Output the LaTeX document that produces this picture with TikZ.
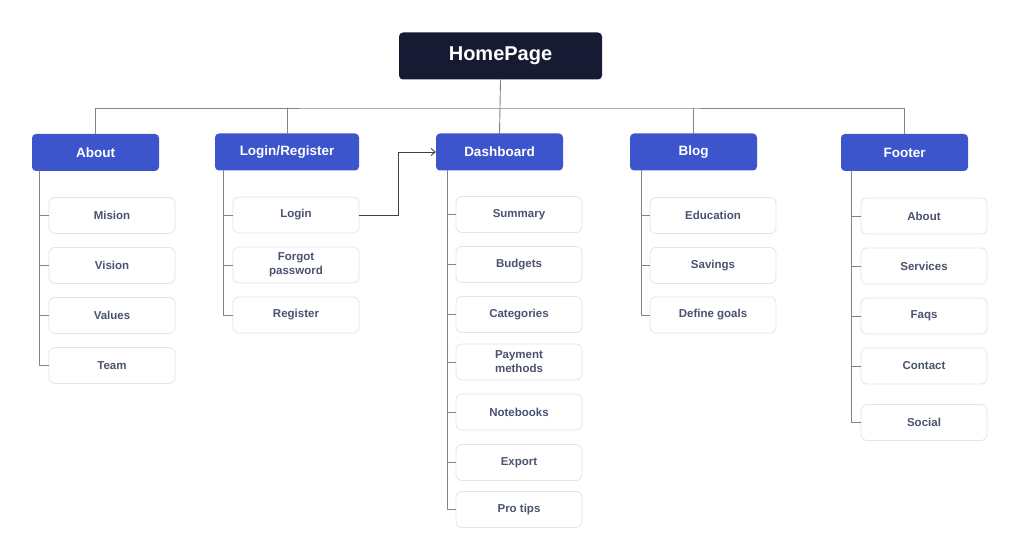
\documentclass[tikz,border=0pt]{standalone}
\usepackage{fontspec}
\setmainfont{Liberation Sans}
\usetikzlibrary{arrows.meta}
\usetikzlibrary{calc}
\usetikzlibrary{positioning}
\definecolor{homenavy}{HTML}{161B33}
\definecolor{secblue}{HTML}{3D55CC}
\definecolor{boxgray}{HTML}{E2E4E8}
\definecolor{labelgray}{HTML}{4B5270}
\definecolor{linegray}{HTML}{80838F}

\begin{document}
\begin{tikzpicture}[line cap=round,line join=round,x=1pt,y=-1pt,
    homebox/.style={fill=homenavy,rounded corners=4pt,minimum width=203pt,minimum height=47pt,inner sep=0pt,text=white,font=\fontsize{20}{23}\selectfont\bfseries},
    sectionbox/.style={fill=secblue,rounded corners=4pt,minimum width=127pt,minimum height=37pt,inner sep=0pt,text=white,font=\fontsize{13.5}{16}\selectfont\bfseries},
    pagebox/.style={draw=boxgray,line width=0.8pt,fill=white,rounded corners=6pt,minimum width=126pt,minimum height=36pt,inner sep=0pt,align=center,text=labelgray,font=\fontsize{11.5}{14}\selectfont\bfseries},
    treeline/.style={draw=linegray,line width=0.9pt}]
      \useasboundingbox (0,0) rectangle (1024,556);
      % root and sections
      \node[homebox] (homepage) at (500.5,56) {HomePage};
      \node[sectionbox] (about) at (95.5,152.5) {About};
      \node[sectionbox,minimum width=144pt] (loginreg) at (287,152) {Login/Register};
      \node[sectionbox] (dashboard) at (499.5,152) {Dashboard};
      \node[sectionbox] (blog) at (693.5,152) {Blog};
      \node[sectionbox] (footer) at (904.5,152.5) {Footer};
      \coordinate (bus) at (500,108);
      \draw[treeline] (homepage.south) -- (dashboard.north);
      \draw[treeline] (about.north) |- (bus) -| (footer.north);
      \draw[treeline] (loginreg.north) -- (loginreg.north |- bus);
      \draw[treeline] (blog.north) -- (blog.north |- bus);
      % about
      \node[pagebox] (mision) at (112,215.5) {Mision};
      \node[pagebox] (vision) at (112,265.5) {Vision};
      \node[pagebox] (values) at (112,315.5) {Values};
      \node[pagebox] (team) at (112,365.5) {Team};
      \foreach \p in {mision,vision,values,team}
        \draw[treeline] ([xshift=8pt]about.south west) |- (\p.west);
      % login/register
      \node[pagebox] (login) at (296,215) {Login};
      \node[pagebox] (forgot) at (296,265) {Forgot\\password};
      \node[pagebox] (register) at (296,315) {Register};
      \foreach \p in {login,forgot,register}
        \draw[treeline] ([xshift=9pt]loginreg.south west) |- (\p.west);
      \draw[treeline,draw=black!75,-{Straight Barb[length=4pt,width=7pt]}] (login.east) -- ++(39,0) |- (dashboard.west);
      % dashboard
      \node[pagebox] (summary) at (519,214.5) {Summary};
      \node[pagebox] (budgets) at (519,264.5) {Budgets};
      \node[pagebox] (categories) at (519,314.5) {Categories};
      \node[pagebox] (payment) at (519,362) {Payment\\methods};
      \node[pagebox] (notebooks) at (519,412) {Notebooks};
      \node[pagebox] (export) at (519,462.5) {Export};
      \node[pagebox] (protips) at (519,509.5) {Pro tips};
      \foreach \p in {summary,budgets,categories,payment,notebooks,export,protips}
        \draw[treeline] ([xshift=12pt]dashboard.south west) |- (\p.west);
      % blog
      \node[pagebox] (education) at (713,215.5) {Education};
      \node[pagebox] (savings) at (713,265.5) {Savings};
      \node[pagebox] (goals) at (713,315) {Define goals};
      \foreach \p in {education,savings,goals}
        \draw[treeline] ([xshift=12pt]blog.south west) |- (\p.west);
      % footer
      \node[pagebox] (fabout) at (924,216) {About};
      \node[pagebox] (services) at (924,266) {Services};
      \node[pagebox] (faqs) at (924,316) {Faqs};
      \node[pagebox] (contact) at (924,366) {Contact};
      \node[pagebox] (social) at (924,422.5) {Social};
      \foreach \p in {fabout,services,faqs,contact,social}
        \draw[treeline] ([xshift=11pt]footer.south west) |- (\p.west);
\end{tikzpicture}
\end{document}
